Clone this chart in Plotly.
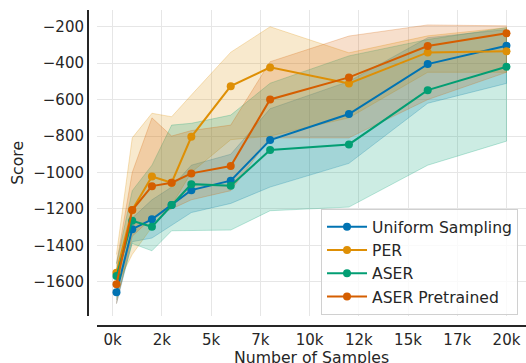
import plotly.graph_objects as go

samples = [200, 1000, 2000, 3000, 4000, 6000, 8000, 12000, 16000, 20000]

uniform_mean = [-1658, -1311, -1257, -1179, -1097, -1045, -822, -679, -405, -304]
uniform_up = [-1600, -1250, -1150, -1080, -960, -900, -650, -500, -260, -215]
uniform_lo = [-1720, -1380, -1360, -1290, -1220, -1170, -1080, -950, -620, -511]

per_mean = [-1550, -1206, -1022, -1056, -804, -526, -423, -511, -341, -335]
per_up = [-1450, -810, -675, -694, -575, -340, -200, -343, -250, -205]
per_lo = [-1620, -1450, -1300, -1180, -1000, -820, -800, -700, -450, -450]

aser_mean = [-1569, -1265, -1298, -1179, -1064, -1073, -877, -846, -548, -420]
aser_up = [-1500, -1100, -960, -740, -730, -685, -510, -360, -270, -205]
aser_lo = [-1700, -1390, -1430, -1320, -1316, -1316, -1210, -1190, -960, -828]

aserp_mean = [-1614, -1206, -1075, -1056, -1005, -965, -599, -478, -306, -236]
aserp_up = [-1500, -1000, -700, -800, -770, -740, -392, -251, -190, -195]
aserp_lo = [-1720, -1350, -1250, -1200, -1150, -1100, -810, -810, -600, -450]

series_names = ["Uniform Sampling", "PER", "ASER", "ASER Pretrained"]
series_colors = ["#0173b2", "#de8f05", "#029e73", "#d55e00"]
series_rgb = [(1, 115, 178), (222, 143, 5), (2, 158, 115), (213, 94, 0)]

x_tick_vals = [0, 2500, 5000, 7500, 10000, 12500, 15000, 17500, 20000]
x_tick_text = ["0k", "2k", "5k", "7k", "10k", "12k", "15k", "17k", "20k"]
y_tick_vals = [-200, -400, -600, -800, -1000, -1200, -1400, -1600]

means = [uniform_mean, per_mean, aser_mean, aserp_mean]
ups = [uniform_up, per_up, aser_up, aserp_up]
los = [uniform_lo, per_lo, aser_lo, aserp_lo]

fig = go.Figure()
for name, rgb, up, lo in zip(series_names, series_rgb, ups, los):
    r, g, b = rgb
    fig.add_trace(go.Scatter(
        x=samples + samples[::-1], y=up + lo[::-1], fill="toself",
        fillcolor=f"rgba({r},{g},{b},0.2)",
        line=dict(color=f"rgba({r},{g},{b},0.25)", width=1),
        mode="lines", showlegend=False, hoverinfo="skip"))
for name, col, m in zip(series_names, series_colors, means):
    fig.add_trace(go.Scatter(
        x=samples, y=m, mode="lines+markers", name=name,
        line=dict(color=col, width=2), marker=dict(color=col, size=8)))

font = "DejaVu Sans"
fig.update_layout(
    width=526, height=363,
    margin=dict(l=88, r=0, t=10, b=37),
    plot_bgcolor="white", paper_bgcolor="white",
    font=dict(family=font, size=15, color="#262626"),
    xaxis=dict(domain=[0.0205, 1], anchor="free", position=0, automargin=False,
               range=[-790, 20990], tickvals=x_tick_vals, ticktext=x_tick_text,
               showgrid=True, gridcolor="#e6e6e6", gridwidth=1, zeroline=False,
               showline=True, linecolor="#262626", linewidth=2, ticks="",
               tickfont=dict(size=15)),
    yaxis=dict(domain=[0.0316, 1], anchor="free", position=0, automargin=False,
               range=[-1788, -108], tickvals=y_tick_vals,
               showgrid=True, gridcolor="#e6e6e6", gridwidth=1, zeroline=False,
               showline=True, linecolor="#262626", linewidth=2, ticks="",
               tickfont=dict(size=15)),
    legend=dict(x=0.532, y=0.37, xanchor="left", yanchor="top", itemwidth=40,
                bgcolor="rgba(255,255,255,0.8)", bordercolor="#d0d0d0", borderwidth=1,
                font=dict(size=15.6, color="#262626")),
    annotations=[
        dict(text="Score", xref="paper", yref="paper", x=-0.16, y=0.516,
             textangle=-90, showarrow=False, font=dict(size=15.7),
             xanchor="center", yanchor="middle"),
        dict(text="Number of Samples", xref="paper", yref="paper", x=0.511, y=-0.1,
             showarrow=False, font=dict(size=15.7), xanchor="center", yanchor="middle"),
    ],
)

fig.write_html("out.html", config={"displayModeBar": False},
               post_script="document.body.style.margin='0px';")
